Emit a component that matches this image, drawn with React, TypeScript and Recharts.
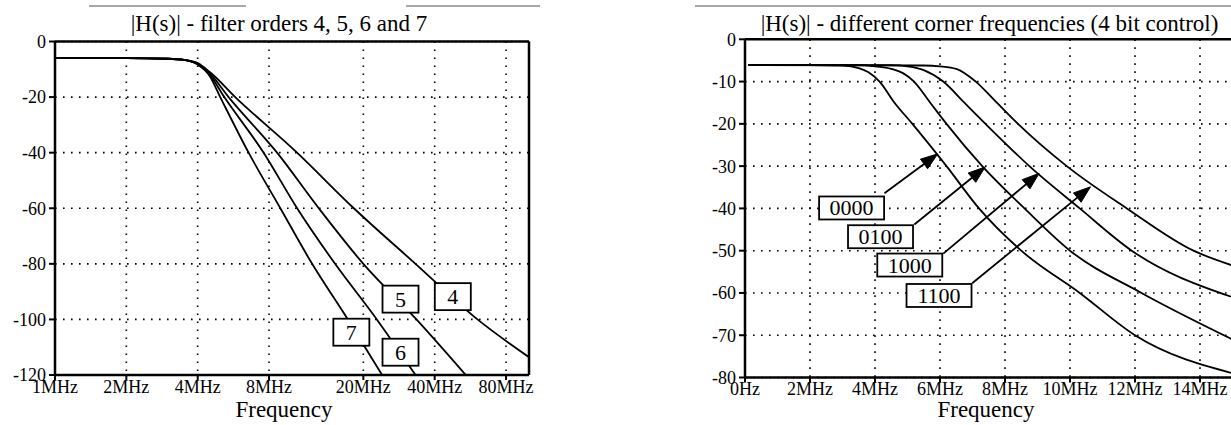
import React from 'react';
import { LineChart, Line, XAxis, YAxis, CartesianGrid, ReferenceLine, ReferenceDot } from 'recharts';

const FONT = '"Liberation Serif", "Times New Roman", Times, serif';

// ---------- Left chart: filter orders (log frequency, MHz) ----------
const orderFreqTicks = [1, 2, 4, 8, 20, 40, 80];
const orderDbTicks = [-120, -100, -80, -60, -40, -20, 0];

const order4 = [
  { f: 1, db: -6 }, { f: 2, db: -6 }, { f: 3, db: -6.2 }, { f: 3.5, db: -6.6 }, { f: 4, db: -7.8 },
  { f: 4.5, db: -11 }, { f: 5.76, db: -20 }, { f: 10.5, db: -40 }, { f: 18.23, db: -60 },
  { f: 33.2, db: -80 }, { f: 60.6, db: -100 }, { f: 100, db: -113.6 },
];
const order5 = [
  { f: 1, db: -6 }, { f: 2, db: -6 }, { f: 3, db: -6.2 }, { f: 3.5, db: -6.6 }, { f: 4, db: -8 },
  { f: 4.5, db: -11.5 }, { f: 5.4, db: -20 }, { f: 8.65, db: -40 }, { f: 12.97, db: -60 },
  { f: 20.0, db: -80 }, { f: 33.5, db: -100 }, { f: 54.1, db: -120 },
];
const order6 = [
  { f: 1, db: -6 }, { f: 2, db: -6 }, { f: 3, db: -6.2 }, { f: 3.5, db: -6.6 }, { f: 4, db: -8.2 },
  { f: 4.5, db: -12 }, { f: 5.18, db: -20 }, { f: 7.59, db: -40 }, { f: 10.51, db: -60 },
  { f: 15.2, db: -80 }, { f: 22.8, db: -100 }, { f: 33.2, db: -120 },
];
const order7 = [
  { f: 1, db: -6 }, { f: 2, db: -6 }, { f: 3, db: -6.2 }, { f: 3.5, db: -6.6 }, { f: 4, db: -8.3 },
  { f: 4.5, db: -12.5 }, { f: 4.98, db: -20 }, { f: 6.56, db: -40 }, { f: 8.93, db: -60 },
  { f: 12.16, db: -80 }, { f: 17.2, db: -100 }, { f: 24.0, db: -120 },
];
const orderLabels = [
  { f: 47.7, db: -91.8, text: '4' },
  { f: 28.7, db: -92.7, text: '5' },
  { f: 28.7, db: -111.8, text: '6' },
  { f: 17.8, db: -104.6, text: '7' },
];

// ---------- Right chart: corner frequencies (linear frequency, MHz) ----------
const cornerFreqTicks = [0, 2, 4, 6, 8, 10, 12, 14];
const cornerDbTicks = [-80, -70, -60, -50, -40, -30, -20, -10, 0];

const code0000 = [
  { f: 0.1, db: -6.1 }, { f: 2, db: -6.1 }, { f: 3, db: -6.2 }, { f: 3.5, db: -6.8 }, { f: 3.8, db: -7.8 },
  { f: 4.14, db: -10 }, { f: 4.6, db: -15 }, { f: 5.15, db: -20 }, { f: 6.2, db: -30 }, { f: 7.2, db: -40 },
  { f: 8.5, db: -50 }, { f: 10.3, db: -60 }, { f: 12, db: -70 }, { f: 15, db: -79 },
];
const code0100 = [
  { f: 0.1, db: -6.1 }, { f: 3.5, db: -6.1 }, { f: 4, db: -6.4 }, { f: 4.5, db: -7 }, { f: 4.86, db: -8 },
  { f: 5.2, db: -10 }, { f: 5.7, db: -15 }, { f: 6.2, db: -20 }, { f: 7.3, db: -30 }, { f: 8.6, db: -40 },
  { f: 10.0, db: -50 }, { f: 12.2, db: -60 }, { f: 15, db: -71 },
];
const code1000 = [
  { f: 0.1, db: -6.1 }, { f: 4.5, db: -6.1 }, { f: 5.0, db: -6.4 }, { f: 5.5, db: -7.3 }, { f: 6.1, db: -10 },
  { f: 6.75, db: -15 }, { f: 7.4, db: -20 }, { f: 8.75, db: -30 }, { f: 10.3, db: -40 }, { f: 11.9, db: -50 },
  { f: 15, db: -61 },
];
const code1100 = [
  { f: 0.1, db: -6.1 }, { f: 5.5, db: -6.2 }, { f: 6.0, db: -6.4 }, { f: 6.5, db: -7 }, { f: 7.1, db: -10 },
  { f: 7.75, db: -15 }, { f: 8.4, db: -20 }, { f: 9.9, db: -30 }, { f: 11.75, db: -40 }, { f: 13.8, db: -50 },
  { f: 15, db: -53.5 },
];
const codeLabels = [
  { f: 3.28, db: -39.9, text: '0000' },
  { f: 4.17, db: -46.7, text: '0100' },
  { f: 5.07, db: -53.4, text: '1000' },
  { f: 5.97, db: -60.6, text: '1100' },
];
const codeArrows = [
  { fromF: 4.29, fromDb: -36.4, toF: 5.93, toDb: -27.1 },
  { fromF: 5.21, fromDb: -43.8, toF: 7.39, toDb: -30.2 },
  { fromF: 6.1, fromDb: -50.7, toF: 9.05, toDb: -31.7 },
  { fromF: 6.99, fromDb: -57.7, toF: 10.63, toDb: -34.9 },
];

// ---------- shapes ----------
const tickStyle = { fontFamily: FONT, fontSize: 18, fill: '#000' };
const axisLineStyle = { stroke: '#000', strokeWidth: 2.5 };
const tickLineStyle = { stroke: '#000', strokeWidth: 2 };

function makeBox(text: string, w: number, h: number) {
  return (p: any) => {
    const { cx, cy } = p;
    if (cx == null || cy == null) return <g />;
    return (
      <g>
        <rect x={cx - w / 2} y={cy - h / 2} width={w} height={h} fill="#fff" stroke="#000" strokeWidth={1.8} />
        <text x={cx} y={cy} dy="0.34em" textAnchor="middle" fontFamily={FONT} fontSize={22} fill="#000">
          {text}
        </text>
      </g>
    );
  };
}

const arrowShape = (p: any) => {
  const { x1, y1, x2, y2 } = p;
  if ([x1, y1, x2, y2].some((v) => v == null || isNaN(v))) return <g />;
  const ang = Math.atan2(y2 - y1, x2 - x1);
  const L = 17;
  const W = 6;
  const c = Math.cos(ang);
  const s = Math.sin(ang);
  const bx = x2 - L * c;
  const by = y2 - L * s;
  const pts = `${x2},${y2} ${bx - W * s},${by + W * c} ${bx + W * s},${by - W * c}`;
  return (
    <g>
      <line x1={x1} y1={y1} x2={bx} y2={by} stroke="#000" strokeWidth={1.8} />
      <polygon points={pts} fill="#000" stroke="#000" strokeWidth={1} />
    </g>
  );
};

const titleStyle = (cx: number, top: number): React.CSSProperties => ({
  position: 'absolute',
  left: cx - 350,
  width: 700,
  top,
  textAlign: 'center',
  fontFamily: FONT,
  fontSize: 23,
  lineHeight: '26px',
  color: '#000',
  whiteSpace: 'nowrap',
});

const grayRule = (left: number, width: number): React.CSSProperties => ({
  position: 'absolute',
  left,
  width,
  top: 5,
  height: 1.5,
  background: '#a8a8a8',
});

export default function App() {
  return (
    <div
      style={{
        position: 'fixed',
        left: 0,
        top: 0,
        width: 1231,
        height: 425,
        overflow: 'hidden',
        background: '#fff',
      }}
    >
      <div style={grayRule(89, 157)} />
      <div style={grayRule(406, 134)} />
      <div style={grayRule(695, 536)} />

      {/* Left chart */}
      <div style={{ position: 'absolute', left: 0, top: 0 }}>
        <LineChart width={539} height={425} margin={{ top: 41.5, right: 10, bottom: 10, left: 0 }}>
          <CartesianGrid stroke="#000" strokeWidth={1.6} strokeDasharray="1.6 6.4" />
          <XAxis
            dataKey="f"
            type="number"
            scale="log"
            domain={[1, 100]}
            allowDataOverflow
            ticks={orderFreqTicks}
            interval={0}
            tickFormatter={(v: number) => `${v}MHz`}
            height={40}
            tick={tickStyle}
            axisLine={axisLineStyle}
            tickLine={tickLineStyle}
            tickSize={5}
            tickMargin={0}
          />
          <YAxis
            dataKey="db"
            type="number"
            domain={[-120, 0]}
            allowDataOverflow
            ticks={orderDbTicks}
            interval={0}
            width={55}
            tick={tickStyle}
            axisLine={axisLineStyle}
            tickLine={tickLineStyle}
            tickSize={6}
            tickMargin={3}
          />
          <ReferenceLine y={0} stroke="#000" strokeWidth={2.5} />
          <ReferenceLine x={100} stroke="#000" strokeWidth={2.5} />
          <Line data={order4} dataKey="db" type="monotone" stroke="#000" strokeWidth={1.8} dot={false} isAnimationActive={false} />
          <Line data={order5} dataKey="db" type="monotone" stroke="#000" strokeWidth={1.8} dot={false} isAnimationActive={false} />
          <Line data={order6} dataKey="db" type="monotone" stroke="#000" strokeWidth={1.8} dot={false} isAnimationActive={false} />
          <Line data={order7} dataKey="db" type="monotone" stroke="#000" strokeWidth={1.8} dot={false} isAnimationActive={false} />
          {orderLabels.map((l) => (
            <ReferenceDot key={l.text} x={l.f} y={l.db} r={1} zIndex={2000} shape={makeBox(l.text, 36, 27)} />
          ))}
        </LineChart>
      </div>
      <div style={titleStyle(279, 11)}>|H(s)| - filter orders 4, 5, 6 and 7</div>
      <div style={titleStyle(284, 397)}>Frequency</div>

      {/* Right chart */}
      <div style={{ position: 'absolute', left: 690, top: 0 }}>
        <LineChart width={585} height={425} margin={{ top: 39.3, right: 10, bottom: 10, left: 0 }}>
          <CartesianGrid stroke="#000" strokeWidth={1.6} strokeDasharray="1.6 6.4" />
          <XAxis
            dataKey="f"
            type="number"
            domain={[0, 16]}
            allowDataOverflow
            ticks={cornerFreqTicks}
            interval={0}
            tickFormatter={(v: number) => (v === 0 ? '0Hz' : `${v}MHz`)}
            height={37.5}
            tick={tickStyle}
            axisLine={axisLineStyle}
            tickLine={tickLineStyle}
            tickSize={5}
            tickMargin={0}
          />
          <YAxis
            dataKey="db"
            type="number"
            domain={[-80, 0]}
            allowDataOverflow
            ticks={cornerDbTicks}
            interval={0}
            width={55}
            tick={tickStyle}
            axisLine={axisLineStyle}
            tickLine={tickLineStyle}
            tickSize={6}
            tickMargin={3}
          />
          <ReferenceLine y={0} stroke="#000" strokeWidth={2.5} />
          <ReferenceLine x={16} stroke="#000" strokeWidth={2.5} />
          <Line data={code0000} dataKey="db" type="monotone" stroke="#000" strokeWidth={1.8} dot={false} isAnimationActive={false} />
          <Line data={code0100} dataKey="db" type="monotone" stroke="#000" strokeWidth={1.8} dot={false} isAnimationActive={false} />
          <Line data={code1000} dataKey="db" type="monotone" stroke="#000" strokeWidth={1.8} dot={false} isAnimationActive={false} />
          <Line data={code1100} dataKey="db" type="monotone" stroke="#000" strokeWidth={1.8} dot={false} isAnimationActive={false} />
          {codeArrows.map((a, i) => (
            <ReferenceLine
              key={`arr${i}`}
              segment={[{ x: a.fromF, y: a.fromDb }, { x: a.toF, y: a.toDb }]}
              zIndex={1500}
              shape={arrowShape}
            />
          ))}
          {codeLabels.map((l) => (
            <ReferenceDot key={l.text} x={l.f} y={l.db} r={1} zIndex={2000} shape={makeBox(l.text, 65, 23)} />
          ))}
        </LineChart>
      </div>
      <div style={titleStyle(989.5, 11)}>|H(s)| - different corner frequencies (4 bit control)</div>
      <div style={titleStyle(986, 397)}>Frequency</div>
    </div>
  );
}
